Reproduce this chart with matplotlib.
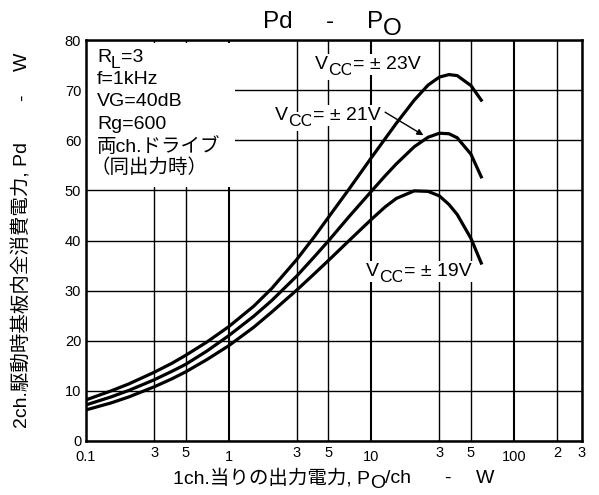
import matplotlib; matplotlib.use("Agg")
import matplotlib.pyplot as plt
from matplotlib.patches import Rectangle

plt.rcParams['font.family'] = ['Liberation Sans', 'Noto Sans CJK JP']

# output power per channel (W) and total dissipation (W) for each supply voltage
po = [0.1, 0.15, 0.2, 0.3, 0.4, 0.5, 0.7, 1, 1.5, 2, 3, 4, 5, 7, 10, 12.5, 15, 20, 25, 30, 35, 40, 50, 59]
pd_23v = [8.2, 10.0, 11.4, 13.7, 15.5, 17.1, 19.7, 22.8, 26.9, 30.4, 36.2, 40.8, 44.6, 50.3, 56.5, 60.3,
          63.4, 68.0, 71.0, 72.6, 73.1, 72.9, 70.9, 68.0]
pd_21v = [7.2, 8.8, 10.1, 12.2, 13.9, 15.3, 17.9, 21.0, 24.9, 28.0, 32.9, 36.8, 39.9, 44.8, 49.8, 52.9,
          55.3, 58.7, 60.6, 61.4, 61.3, 60.5, 57.2, 52.7]
pd_19v = [6.2, 7.6, 8.8, 10.8, 12.4, 13.8, 16.2, 19.0, 22.7, 25.7, 30.1, 33.4, 36.0, 40.0, 44.2, 46.7,
          48.4, 49.9, 49.8, 48.9, 47.2, 45.2, 40.4, 35.5]

x_major = [0.1, 1, 10, 100]
x_major_lbl = ["0.1", "1", "10", "100"]
x_minor = [0.3, 0.5, 3, 5, 30, 50, 200, 300]
x_minor_lbl = ["3", "5", "3", "5", "3", "5", "2", "3"]
y_ticks = [0, 10, 20, 30, 40, 50, 60, 70, 80]

conditions = ["f=1kHz", "VG=40dB", "Rg=600", "両ch.ドライブ"]

W, H = 599, 495
FS = 14
fig = plt.figure(figsize=(W / 100, H / 100), dpi=100)
renderer = fig.canvas.get_renderer()
ax = fig.add_axes([86 / W, 1 - 441 / H, (582 - 86) / W, (441 - 40) / H])
ax.set_xscale('log')
ax.set_xlim(0.1, 300)
ax.set_ylim(0, 80)

for curve in (pd_23v, pd_21v, pd_19v):
    ax.plot(po, curve, color='black', lw=2.3, zorder=4, solid_joinstyle='round')

ax.set_xticks(x_major)
ax.set_xticklabels(x_major_lbl)
ax.set_xticks(x_minor, minor=True)
ax.set_xticklabels(x_minor_lbl, minor=True)
ax.set_yticks(y_ticks)
ax.tick_params(axis='both', which='both', length=0, labelsize=10.5)
ax.tick_params(axis='x', which='major', pad=6.5)
ax.tick_params(axis='x', which='minor', pad=3.5)
ax.tick_params(axis='y', pad=3.5)
ax.grid(True, which='major', axis='x', color='black', lw=1.5)
ax.grid(True, which='minor', axis='x', color='black', lw=1.0)
ax.grid(True, which='major', axis='y', color='black', lw=1.0)
ax.set_axisbelow(True)
for s in ax.spines.values():
    s.set_linewidth(1.8)

# blank panel behind the test conditions
ax.add_patch(Rectangle((0, 0.633), 0.300, 0.36, transform=ax.transAxes,
                       fc='white', ec='none', zorder=2))


def rich(x, y, runs, size, white=False):
    """Draw text pieces left to right; each piece = (text, baseline drop px, size factor)."""
    for s, drop, k in runs:
        t = fig.text(x / W, 1 - (y + drop) / H, s, fontsize=size * k,
                     ha='left', va='baseline', zorder=5)
        if white:
            t.set_bbox(dict(fc='white', ec='none', pad=1.5))
        x += t.get_window_extent(renderer).width


# title
fig.text(263 / W, 1 - 28 / H, "Pd", fontsize=17.5, ha='left', va='baseline')
fig.text(330 / W, 1 - 28 / H, "-", fontsize=17.5, ha='center', va='baseline')
rich(367, 28, [("P", 0, 1), ("O", 7, 1)], 17.5)

# test conditions
rich(97, 62, [("R", 0, 1), ("L", 6, 0.9), ("=3", 0, 1)], FS)
for i, line in enumerate(conditions):
    fig.text(97 / W, 1 - (84 + 22.5 * i) / H, line, fontsize=FS, ha='left', va='baseline')
fig.text(91 / W, 1 - 173 / H, "（同出力時）", fontsize=FS, ha='left', va='baseline')

# supply voltage labels
rich(315, 69, [("V", 0, 1), ("CC", 6, 0.9), ("= ± 23V", 0, 1)], FS, white=True)
rich(275, 120, [("V", 0, 1), ("CC", 6, 0.9), ("= ± 21V", 0, 1)], FS, white=True)
rich(366, 276, [("V", 0, 1), ("CC", 6, 0.9), ("= ± 19V", 0, 1)], FS, white=True)
ax.annotate("", xy=(23.2, 61.0), xytext=(12.5, 65.6),
            arrowprops=dict(arrowstyle='-|>', color='black', lw=1, mutation_scale=9,
                            shrinkA=0, shrinkB=0), zorder=5)

# axis titles
fig.text(27 / W, 1 - 428 / H, "2ch.駆動時基板内全消費電力, Pd", fontsize=FS, rotation=90,
         rotation_mode='anchor', ha='left', va='baseline')
fig.text(27 / W, 1 - 98 / H, "-", fontsize=FS, rotation=90,
         rotation_mode='anchor', ha='center', va='baseline')
fig.text(27 / W, 1 - 62 / H, "W", fontsize=FS, rotation=90,
         rotation_mode='anchor', ha='center', va='baseline')
rich(173, 483, [("1ch.当りの出力電力, P", 0, 1), ("O", 5, 1), ("/ch", 0, 1)], FS)
fig.text(447 / W, 1 - 483 / H, "-", fontsize=FS, ha='center', va='baseline')
fig.text(485 / W, 1 - 483 / H, "W", fontsize=FS, ha='center', va='baseline')

fig.savefig("out.png", dpi=100)
